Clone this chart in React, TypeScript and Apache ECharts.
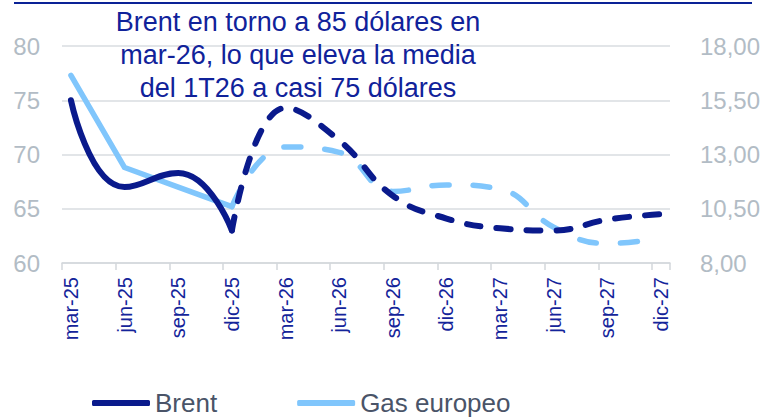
import React, { useEffect, useRef } from 'react';
import * as echarts from 'echarts';

// Monthly category axis (Mar-25 .. Dec-27); quarterly values sit on quarter-end months
const months = [
  'mar-25', 'abr-25', 'may-25', 'jun-25', 'jul-25', 'ago-25', 'sep-25', 'oct-25', 'nov-25', 'dic-25',
  'ene-26', 'feb-26', 'mar-26', 'abr-26', 'may-26', 'jun-26', 'jul-26', 'ago-26', 'sep-26', 'oct-26', 'nov-26', 'dic-26',
  'ene-27', 'feb-27', 'mar-27', 'abr-27', 'may-27', 'jun-27', 'jul-27', 'ago-27', 'sep-27', 'oct-27', 'nov-27', 'dic-27',
];
const quarterLabels = [
  'mar-25', 'jun-25', 'sep-25', 'dic-25', 'mar-26', 'jun-26',
  'sep-26', 'dic-26', 'mar-27', 'jun-27', 'sep-27', 'dic-27',
];

// Brent (USD/barrel, left axis)
const brentActualQuarters = ['mar-25', 'jun-25', 'sep-25', 'dic-25'];
const brentActual = [75.0, 67.0, 68.3, 63.0];
const brentForecastQuarters = ['dic-25', 'mar-26', 'jun-26', 'sep-26', 'dic-26', 'mar-27', 'jun-27', 'sep-27', 'dic-27'];
const brentForecast = [63.0, 74.3, 71.3, 66.2, 64.1, 63.2, 63.0, 64.0, 64.5];

// European gas (right axis)
const gasActualQuarters = ['mar-25', 'jun-25', 'sep-25', 'dic-25'];
const gasActual = [16.65, 12.4, 11.5, 10.6];
const gasForecastQuarters = ['dic-25', 'mar-26', 'jun-26', 'sep-26', 'dic-26', 'mar-27', 'jun-27', 'sep-27', 'dic-27'];
const gasForecast = [10.6, 13.35, 13.1, 11.3, 11.6, 11.4, 9.65, 8.9, 9.15];

const titleLines = [
  'Brent en torno a 85 dólares en',
  'mar-26, lo que eleva la media',
  'del 1T26 a casi 75 dólares',
];

const BRENT = '#0a1a8c';
const GAS = '#80c6fc';
const FONT = '"Liberation Sans", Arial, sans-serif';

function place(qs: string[], vals: number[]) {
  const arr: (number | null)[] = months.map(() => null);
  qs.forEach((q, i) => {
    arr[months.indexOf(q)] = vals[i];
  });
  return arr;
}

export default function App() {
  const ref = useRef<HTMLDivElement>(null);
  useEffect(() => {
    if (!ref.current) return;
    const chart = echarts.init(ref.current, undefined, { renderer: 'svg' });
    const showQ = (index: number) => quarterLabels.includes(months[index]);
    chart.setOption({
      animation: false,
      textStyle: { fontFamily: FONT },
      title: {
        text: titleLines.join('\n'),
        left: 298,
        top: 5,
        padding: 0,
        textAlign: 'center',
        textStyle: {
          fontFamily: FONT,
          fontSize: 27,
          fontWeight: 'normal',
          color: '#10229a',
          lineHeight: 33,
        },
      },
      graphic: [
        {
          type: 'line',
          shape: { x1: 14, y1: 3, x2: 752, y2: 3 },
          style: { stroke: '#0a2296', lineWidth: 2 },
        },
      ],
      legend: {
        data: ['Brent', 'Gas europeo'],
        left: 92,
        top: 390,
        padding: 0,
        icon: 'roundRect',
        itemWidth: 58,
        itemHeight: 6,
        itemGap: 80,
        textStyle: { fontFamily: FONT, fontSize: 26, color: '#4a5468' },
      },
      grid: { left: 62, right: 95, top: 46, bottom: 155, containLabel: false },
      xAxis: {
        type: 'category',
        data: months,
        boundaryGap: true,
        axisLine: { lineStyle: { color: '#d3d7db', width: 1.5 } },
        axisTick: {
          show: true,
          interval: (index: number) => showQ(index),
          length: 7,
          lineStyle: { color: '#d3d7db', width: 1.5 },
        },
        axisLabel: {
          interval: (index: number) => showQ(index),
          rotate: 90,
          margin: 14,
          fontFamily: FONT,
          fontSize: 20,
          color: '#14249a',
          padding: [0, 0, 9, 0],
        },
        splitLine: { show: false },
      },
      yAxis: [
        {
          type: 'value',
          min: 60,
          max: 80,
          interval: 5,
          axisLine: { show: false },
          axisTick: { show: false },
          axisLabel: { fontFamily: FONT, fontSize: 24, color: '#b2bcc5', margin: 22 },
          splitLine: { lineStyle: { color: '#d9dde1', width: 1.5 } },
        },
        {
          type: 'value',
          min: 8,
          max: 18,
          interval: 2.5,
          axisLine: { show: false },
          axisTick: { show: false },
          axisLabel: {
            fontFamily: FONT,
            fontSize: 24,
            color: '#b2bcc5',
            margin: 30,
            formatter: (v: number) => v.toFixed(2).replace('.', ','),
          },
          splitLine: { show: false },
        },
      ],
      series: [
        {
          name: 'Brent',
          type: 'line',
          yAxisIndex: 0,
          data: place(brentActualQuarters, brentActual),
          connectNulls: true,
          smooth: 0.5,
          symbol: 'none',
          itemStyle: { color: BRENT },
          lineStyle: { color: BRENT, width: 6, cap: 'round', join: 'round' },
          z: 4,
        },
        {
          name: 'Brent previsión',
          type: 'line',
          yAxisIndex: 0,
          data: place(brentForecastQuarters, brentForecast),
          connectNulls: true,
          smooth: 0.45,
          symbol: 'none',
          itemStyle: { color: BRENT },
          lineStyle: { color: BRENT, width: 6, type: [14, 16], cap: 'round', join: 'round' },
          z: 4,
        },
        {
          name: 'Gas europeo',
          type: 'line',
          yAxisIndex: 1,
          data: place(gasActualQuarters, gasActual),
          connectNulls: true,
          smooth: false,
          symbol: 'none',
          itemStyle: { color: GAS },
          lineStyle: { color: GAS, width: 5.5, cap: 'round', join: 'round' },
          z: 3,
        },
        {
          name: 'Gas previsión',
          type: 'line',
          yAxisIndex: 1,
          data: place(gasForecastQuarters, gasForecast),
          connectNulls: true,
          smooth: 0.45,
          symbol: 'none',
          itemStyle: { color: GAS },
          lineStyle: { color: GAS, width: 5.5, type: [17, 24], cap: 'round', join: 'round' },
          z: 3,
        },
      ],
    });
    return () => chart.dispose();
  }, []);
  return (
    <div
      ref={ref}
      style={{ position: 'absolute', left: 0, top: 0, width: 765, height: 418, background: '#fff' }}
    />
  );
}
